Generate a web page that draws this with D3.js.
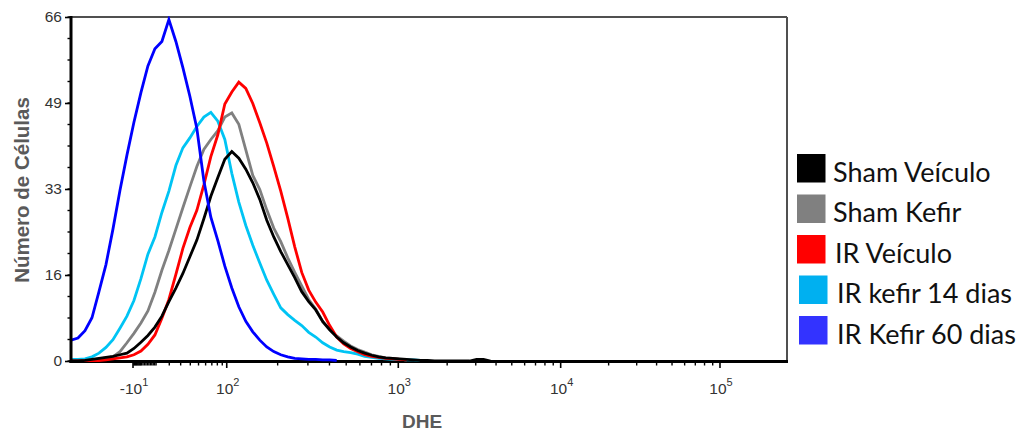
<!DOCTYPE html>
<html>
<head>
<meta charset="utf-8">
<script src="https://cdn.jsdelivr.net/npm/d3@7"></script>
<style>
  body { margin: 0; background: #fff; }
  svg { display: block; }
</style>
</head>
<body>
<svg id="chart" width="1025" height="434"></svg>
<script>
// ---- Histogram data: cell counts per display channel bin (bin width 10, starting at channel 0) ----
const binWidth = 10;
const channelCount = 1024;

const shamVeiculo = [0, 0, 0.1, 0.3, 0.5, 0.7, 0.9, 1.2, 1.5, 2.4, 3.6, 4.9, 6.5, 8.6, 11.4, 14.0, 16.8, 20.0, 23.2, 27.3,
  31.6, 35.2, 38.7, 40.2, 38.9, 36.8, 34.2, 31.0, 27.0, 23.8, 21.0, 18.5, 16.0, 13.3, 11.4, 9.8, 7.6, 6.0, 4.6, 3.5,
  2.7, 2.0, 1.5, 1.1, 0.8, 0.6, 0.5, 0.4, 0.3, 0.2, 0.1, 0.1, 0, 0, 0, 0, 0, 0, 0.3, 0.3, 0];
const shamKefir = [0, 0, 0.1, 0.2, 0.4, 0.6, 0.8, 1.8, 3.5, 5.3, 7.3, 9.6, 13.2, 17.4, 21.2, 25.3, 29.4, 33.4, 37.3, 40.6,
  42.5, 44.2, 46.8, 47.6, 45.4, 40.5, 35.6, 32.9, 29.0, 25.5, 22.9, 19.8, 17.0, 14.4, 11.8, 10.0, 7.5, 6.0, 4.8, 3.8,
  2.9, 2.2, 1.7, 1.2, 0.9, 0.6, 0.5, 0.3, 0.2];
const irVeiculo = [0, 0, 0, 0, 0.1, 0.2, 0.4, 0.6, 0.8, 1.2, 1.9, 3.2, 5.0, 8.2, 11.8, 16.6, 21.6, 25.6, 28.9, 33.8,
  39.2, 43.4, 49.3, 51.6, 53.5, 52.3, 49.4, 45.7, 41.8, 37.3, 32.6, 27.4, 21.9, 17.0, 13.6, 11.3, 9.4, 6.8, 4.6, 3.3,
  2.4, 1.8, 1.2, 0.9, 0.7, 0.5, 0.4, 0.3, 0.2];
const irKefir14 = [0.3, 0.3, 0.4, 0.8, 1.5, 2.6, 4.1, 6.3, 8.6, 11.6, 15.8, 20.5, 23.8, 28.5, 32.6, 37.5, 40.9, 42.8, 45.0, 46.8,
  47.7, 46.0, 42.5, 36.0, 30.5, 26.0, 22.2, 18.8, 15.5, 12.8, 10.2, 8.9, 7.8, 6.8, 5.5, 4.6, 3.5, 2.7, 2.1, 1.8,
  1.6, 1.3, 0.9, 0.7, 0.5, 0.4, 0.3, 0.3, 0.2, 0.2, 0.1];
const irKefir60 = [4.0, 4.4, 5.8, 8.3, 13.3, 18.5, 25.3, 32.7, 39.5, 45.8, 51.5, 56.6, 59.9, 61.3, 65.5, 61.3, 56.3, 50.8, 44.6, 34.6,
  27.6, 23.1, 18.2, 14.0, 10.4, 7.6, 5.6, 4.0, 2.7, 1.8, 1.2, 0.8, 0.5, 0.4, 0.3, 0.3, 0.2, 0.2, 0.1];

// ---- Legend ----
const seriesNames = ["Sham Veículo", "Sham Kefir", "IR Veículo", "IR kefir 14 dias", "IR Kefir 60 dias"];
const lineColors = ["#000000", "#808080", "#ff0000", "#00c4f4", "#0000ff"];
const swatchColors = ["#000000", "#808080", "#ff0000", "#00b0f0", "#3333ff"];
const seriesValues = [shamVeiculo, shamKefir, irVeiculo, irKefir14, irKefir60];
const drawOrder = [3, 1, 2, 0, 4];

// ---- Axis ticks ----
const yMax = 66;
const yTicks = [0, 16.5, 33, 49.5, 66];
const yTickLabels = ["0", "16", "33", "49", "66"];
const yMinorDivisions = 16;

const xMajorTicks = [-10, 100, 1000, 10000, 100000];
const xMajorBase = ["-10", "10", "10", "10", "10"];
const xMajorExp = ["1", "2", "3", "4", "5"];

// Biexponential display: arcsinh transform, anchored to the axis decades
const cofactor = 30;
const xAnchorValues = [-10, 0, 100, 1000, 10000, 100000];
const xAnchorFractions = [0.0866, 0.0985, 0.2175, 0.4571, 0.6839, 0.9064];

// ---- Layout ----
const margin = { left: 71, top: 17, right: 238, bottom: 73 };
const W = 1025, H = 434;
const plotW = W - margin.left - margin.right;
const plotH = H - margin.top - margin.bottom;

const svg = d3.select("#chart");

const asinhT = v => Math.asinh(v / cofactor);
const xAxisScale = d3.scaleLinear()
  .domain(xAnchorValues.map(asinhT))
  .range(xAnchorFractions.map(f => margin.left + f * plotW));
const xPos = v => xAxisScale(asinhT(v));

const xChannel = d3.scaleLinear().domain([0, channelCount]).range([margin.left, margin.left + plotW]);
const y = d3.scaleLinear().domain([0, yMax]).range([margin.top + plotH, margin.top]);

// minor ticks on the DHE axis
const xMinorTicks = [];
for (let k = 1; k <= 9; k++) { xMinorTicks.push(-k); xMinorTicks.push(k); }
xMinorTicks.push(0);
[10, 100, 1000, 10000].forEach(dec => {
  for (let k = (dec === 10 ? 1 : 2); k <= 9; k++) xMinorTicks.push(k * dec);
});

// ---- Frame ----
svg.append("line")
  .attr("x1", margin.left).attr("x2", margin.left + plotW)
  .attr("y1", margin.top).attr("y2", margin.top)
  .attr("stroke", "#505050").attr("stroke-width", 2);
svg.append("line")
  .attr("x1", margin.left + plotW).attr("x2", margin.left + plotW)
  .attr("y1", margin.top).attr("y2", margin.top + plotH)
  .attr("stroke", "#505050").attr("stroke-width", 2);

// ---- X axis ----
const gx = svg.append("g").attr("transform", `translate(0,${margin.top + plotH})`);
gx.selectAll("line.minor").data(xMinorTicks).join("line")
  .attr("class", "minor")
  .attr("x1", d => xPos(d)).attr("x2", d => xPos(d))
  .attr("y1", 0).attr("y2", 4.5)
  .attr("stroke", "#000").attr("stroke-width", 1.4);
gx.selectAll("line.major").data(xMajorTicks).join("line")
  .attr("class", "major")
  .attr("x1", d => xPos(d)).attr("x2", d => xPos(d))
  .attr("y1", 0).attr("y2", 7)
  .attr("stroke", "#000").attr("stroke-width", 1.6);
const xLabels = gx.selectAll("text").data(xMajorTicks).join("text")
  .attr("x", d => xPos(d) + 1)
  .attr("y", 33)
  .attr("text-anchor", "middle")
  .attr("font-family", "'Liberation Sans', Arial, sans-serif")
  .attr("font-size", 15.5)
  .attr("fill", "#333");
xLabels.append("tspan").text((d, i) => xMajorBase[i]);
xLabels.append("tspan").attr("dy", -8).attr("font-size", 11).text((d, i) => xMajorExp[i]);

svg.append("line")
  .attr("x1", margin.left - 1.5).attr("x2", margin.left + plotW + 1)
  .attr("y1", margin.top + plotH + 0.5).attr("y2", margin.top + plotH + 0.5)
  .attr("stroke", "#000").attr("stroke-width", 3);

// ---- Y axis ----
const gy = svg.append("g").attr("transform", `translate(${margin.left},0)`);
gy.selectAll("line.minor").data(d3.range(yMinorDivisions + 1).map(i => i * yMax / yMinorDivisions)).join("line")
  .attr("class", "minor")
  .attr("x1", -3.5).attr("x2", 0)
  .attr("y1", d => y(d)).attr("y2", d => y(d))
  .attr("stroke", "#000").attr("stroke-width", 1.4);
gy.call(d3.axisLeft(y).tickValues(yTicks).tickSize(6).tickPadding(3).tickFormat((d, i) => yTickLabels[i]))
  .call(g => g.select(".domain").remove())
  .call(g => g.selectAll(".tick line").attr("stroke", "#000").attr("stroke-width", 1.6))
  .call(g => g.selectAll(".tick text")
    .attr("font-family", "'Liberation Sans', Arial, sans-serif")
    .attr("font-size", 15.5)
    .attr("fill", "#333"));

// ---- Histogram curves ----
svg.append("clipPath").attr("id", "plot-clip")
  .append("rect")
  .attr("x", margin.left).attr("y", margin.top - 1)
  .attr("width", plotW).attr("height", plotH + 2);

const line = d3.line()
  .x((d, i) => xChannel(i * binWidth))
  .y(d => y(d))
  .curve(d3.curveLinear);

const curves = svg.append("g").attr("clip-path", "url(#plot-clip)");
drawOrder.forEach(k => {
  curves.append("path")
    .datum(seriesValues[k])
    .attr("d", line)
    .attr("fill", "none")
    .attr("stroke", lineColors[k])
    .attr("stroke-width", 2.8)
    .attr("stroke-linejoin", "miter");
});

svg.append("line")
  .attr("x1", margin.left).attr("x2", margin.left)
  .attr("y1", margin.top - 1).attr("y2", margin.top + plotH + 2)
  .attr("stroke", "#000").attr("stroke-width", 3);

// ---- Axis titles ----
svg.append("text")
  .attr("x", margin.left + plotW / 2 - 7)
  .attr("y", 428)
  .attr("text-anchor", "middle")
  .attr("font-family", "'Liberation Sans', Arial, sans-serif")
  .attr("font-weight", "bold")
  .attr("font-size", 19)
  .attr("fill", "#5a5a5a")
  .text("DHE");

svg.append("text")
  .attr("transform", `translate(29,${margin.top + plotH / 2 + 1}) rotate(-90)`)
  .attr("text-anchor", "middle")
  .attr("font-family", "'Liberation Sans', Arial, sans-serif")
  .attr("font-weight", "bold")
  .attr("font-size", 20.5)
  .attr("fill", "#5a5a5a")
  .text("Número de Células");

// ---- Legend ----
const legend = svg.append("g").attr("transform", "translate(797,154)");
const rows = legend.selectAll("g").data(seriesNames).join("g")
  .attr("transform", (d, i) => `translate(${i >= 3 ? 2 : 0},${i * 40.5})`);
rows.append("rect")
  .attr("width", 28.5).attr("height", 28.5)
  .attr("fill", (d, i) => swatchColors[i]);
rows.append("text")
  .attr("x", (d, i) => (i >= 2 ? 38 : 36))
  .attr("y", 27.5)
  .attr("font-family", "Lato, 'Open Sans', sans-serif")
  .attr("font-size", 27)
  .attr("fill", "#111")
  .text(d => d);
</script>
</body>
</html>
